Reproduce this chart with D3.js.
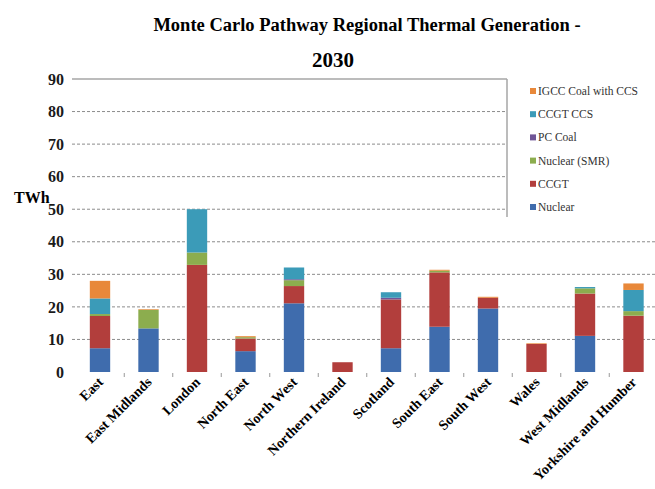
<!DOCTYPE html>
<html>
<head>
<meta charset="utf-8">
<script src="https://cdn.jsdelivr.net/npm/d3@7"></script>
<style>
  body { margin: 0; background: #fff; }
</style>
</head>
<body>
<div id="chart"></div>
<script>
const categories = ["East", "East Midlands", "London", "North East", "North West", "Northern Ireland",
  "Scotland", "South East", "South West", "Wales", "West Midlands", "Yorkshire and Humber"];

// TWh per region
const nuclear = [7.3, 13.4, 0, 6.4, 21.1, 0, 7.3, 13.9, 19.5, 0, 11.1, 0];
const ccgt    = [9.9, 0, 32.9, 3.9, 5.3, 3.0, 15.0, 16.7, 3.3, 8.6, 13.0, 17.3];
const smr     = [0.6, 5.7, 3.8, 0.4, 1.8, 0, 0, 0.5, 0, 0, 1.6, 1.4];
const pcCoal  = [0, 0, 0, 0, 0.3, 0, 0.5, 0, 0, 0, 0, 0];
const ccgtCcs = [4.8, 0, 13.3, 0, 3.6, 0, 1.7, 0, 0, 0, 0.4, 6.5];
const igcc    = [5.4, 0.2, 0, 0.3, 0, 0, 0, 0.3, 0.3, 0.2, 0, 2.0];

const seriesNames = ["Nuclear", "CCGT", "Nuclear (SMR)", "PC Coal", "CCGT CCS", "IGCC Coal with CCS"];
const seriesColors = ["#3f6cad", "#b23e3c", "#8cad4e", "#6f5597", "#3b9bb8", "#e8883a"];
const yTicks = [0, 10, 20, 30, 40, 50, 60, 70, 80, 90];

const width = 655, height = 489;
const serif = "'Liberation Serif', Tinos, 'Times New Roman', 'DejaVu Serif', serif";

const rows = categories.map((c, i) => ({
  region: c,
  "Nuclear": nuclear[i],
  "CCGT": ccgt[i],
  "Nuclear (SMR)": smr[i],
  "PC Coal": pcCoal[i],
  "CCGT CCS": ccgtCcs[i],
  "IGCC Coal with CCS": igcc[i]
}));

const svg = d3.select("#chart").append("svg")
  .attr("width", width)
  .attr("height", height)
  .attr("font-family", serif);

const x = d3.scaleBand()
  .domain(categories)
  .range([75.75, 657.75])
  .paddingInner(0.58)
  .paddingOuter(0.29);

const y = d3.scaleLinear()
  .domain([0, 90])
  .range([372, 79]);

const color = d3.scaleOrdinal().domain(seriesNames).range(seriesColors);

// title
svg.append("text")
  .attr("x", 367).attr("y", 31)
  .attr("text-anchor", "middle")
  .attr("font-family", serif)
  .attr("font-size", 18.5).attr("font-weight", "bold")
  .text("Monte Carlo Pathway Regional Thermal Generation -");
svg.append("text")
  .attr("x", 333).attr("y", 67)
  .attr("text-anchor", "middle")
  .attr("font-family", serif)
  .attr("font-size", 21).attr("font-weight", "bold")
  .text("2030");

// gridlines: top one solid, the rest dashed; the upper ones stop at the legend frame
const grid = svg.append("g");
yTicks.filter(t => t > 0).forEach(t => {
  grid.append("line")
    .attr("x1", 72)
    .attr("x2", t >= 50 ? 507 : 655)
    .attr("y1", y(t)).attr("y2", y(t))
    .attr("stroke", t === 90 ? "#a6a6a6" : "#8c8c8c")
    .attr("stroke-width", t === 90 ? 1.5 : 1)
    .attr("stroke-dasharray", t === 90 ? null : "3,2");
});
grid.append("line")
  .attr("x1", 507).attr("x2", 507)
  .attr("y1", y(90)).attr("y2", 217)
  .attr("stroke", "#a6a6a6").attr("stroke-width", 1.5);

// y axis labels
const yAxis = svg.append("g")
  .attr("transform", "translate(64,0)")
  .call(d3.axisLeft(y).tickValues(yTicks).tickSize(0).tickPadding(0));
yAxis.attr("font-family", serif);
yAxis.select(".domain").remove();
yAxis.selectAll("text")
  .attr("font-family", serif)
  .attr("font-size", 16).attr("font-weight", "bold").attr("fill", "#1a1a1a");

svg.append("text")
  .attr("x", 14).attr("y", 203)
  .attr("font-family", serif)
  .attr("font-size", 16).attr("font-weight", "bold")
  .text("TWh");

// bars
const stacked = d3.stack().keys(seriesNames)(rows);
svg.append("g").selectAll("g")
  .data(stacked)
  .join("g")
  .attr("fill", d => color(d.key))
  .selectAll("rect")
  .data(d => d)
  .join("rect")
  .attr("x", d => x(d.data.region))
  .attr("y", d => y(d[1]))
  .attr("width", x.bandwidth())
  .attr("height", d => y(d[0]) - y(d[1]));

// x axis: small tick marks between categories and rotated labels
const step = x.step();
svg.append("g").selectAll("line")
  .data(categories.slice(1))
  .join("line")
  .attr("x1", d => x(d) + x.bandwidth() / 2 - step / 2)
  .attr("x2", d => x(d) + x.bandwidth() / 2 - step / 2)
  .attr("y1", 373).attr("y2", 377)
  .attr("stroke", "#999");

svg.append("g").selectAll("text")
  .data(categories)
  .join("text")
  .attr("transform", d => `translate(${x(d) + x.bandwidth() / 2 + 4},${383}) rotate(-45)`)
  .attr("text-anchor", "end")
  .attr("font-family", serif)
  .attr("font-size", 14).attr("font-weight", "bold")
  .text(d => d);

// legend, top item first
const legend = svg.append("g").selectAll("g")
  .data(seriesNames.slice().reverse())
  .join("g")
  .attr("transform", (d, i) => `translate(530,${91 + i * 23.2})`);
legend.append("rect")
  .attr("x", 0).attr("y", -3).attr("width", 6).attr("height", 6)
  .attr("fill", d => color(d));
legend.append("text")
  .attr("x", 8).attr("y", 4)
  .attr("font-family", serif)
  .attr("font-size", 11.5).attr("fill", "#333")
  .text(d => d);
</script>
</body>
</html>
